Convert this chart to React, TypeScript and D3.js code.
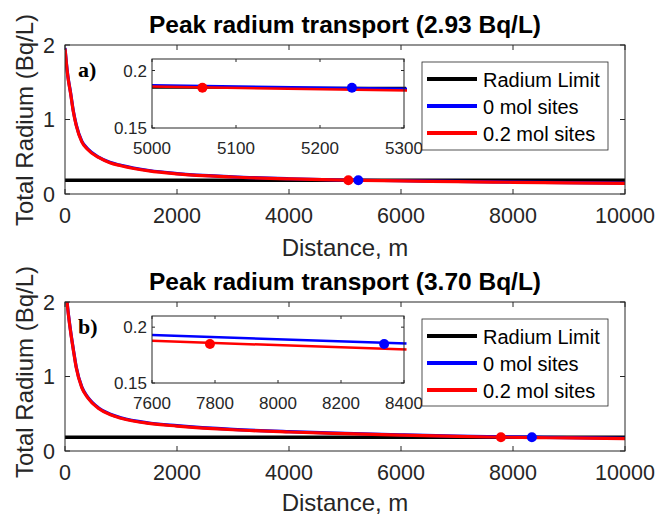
import React, { useEffect, useRef } from 'react';
import * as d3 from 'd3';

const W = 657, H = 517;
const FONT = '"Liberation Sans", Arial, Helvetica, sans-serif';
const AXC = '#262626';

const LIMIT = 0.185; // Bq/L

// panel a) peak 2.93 Bq/L
const distA = [0, 25, 50, 100, 150, 200, 300, 400, 600, 800, 1000, 1500, 2000, 3000, 4000, 5000, 5300, 6000, 7000, 8000, 9000, 10000];
const redA = [1.95, 1.75, 1.58, 1.35, 1.1, 0.92, 0.7, 0.6, 0.49, 0.42, 0.38, 0.31, 0.27, 0.228, 0.203, 0.186, 0.1827, 0.176, 0.166, 0.157, 0.15, 0.143];
const blueA = [1.96, 1.76, 1.59, 1.36, 1.11, 0.93, 0.71, 0.61, 0.495, 0.425, 0.385, 0.315, 0.274, 0.231, 0.205, 0.1871, 0.1842, 0.178, 0.169, 0.16, 0.153, 0.146];
const crossA = { red: 5060, blue: 5238 };

// panel b) peak 3.70 Bq/L
const distB = [0, 25, 50, 100, 150, 200, 300, 400, 600, 800, 1000, 1500, 2000, 3000, 4000, 5000, 6000, 7000, 7600, 8400, 9000, 10000];
const redB = [2.45, 2.1, 1.9, 1.6, 1.35, 1.12, 0.85, 0.72, 0.57, 0.49, 0.44, 0.37, 0.335, 0.285, 0.255, 0.232, 0.212, 0.195, 0.1878, 0.18, 0.175, 0.165];
const blueB = [2.46, 2.11, 1.91, 1.61, 1.36, 1.13, 0.86, 0.73, 0.578, 0.497, 0.446, 0.376, 0.34, 0.29, 0.26, 0.238, 0.218, 0.2, 0.1929, 0.1854, 0.18, 0.17];
const crossB = { red: 7784, blue: 8337 };

const xTicks = [0, 2000, 4000, 6000, 8000, 10000];
const yTicks = [0, 1, 2];
const insetTicksA = [5000, 5100, 5200, 5300];
const insetTicksB = [7600, 7800, 8000, 8200, 8400];
const insetYTicks = [0.15, 0.2];
const legendItems = [
  { label: 'Radium Limit', color: '#000' },
  { label: '0 mol sites', color: '#0000ff' },
  { label: '0.2 mol sites', color: '#ff0000' },
];

type PanelCfg = {
  id: string; top: number; title: string; letter: string;
  dist: number[]; red: number[]; blue: number[];
  cross: { red: number; blue: number };
  insetDomain: [number, number]; insetTicks: number[]; insetTop: number; insetH: number; insetLimit: boolean;
  legendTop: number; legendH: number; ylabelY: number; xlabelDy: number;
};

const panels: PanelCfg[] = [
  { id: 'a', top: 45, title: 'Peak radium transport (2.93 Bq/L)', letter: 'a)', dist: distA, red: redA, blue: blueA, cross: crossA,
    insetDomain: [5000, 5300], insetTicks: insetTicksA, insetTop: 59, insetH: 69, insetLimit: true, legendTop: 62, legendH: 88, ylabelY: 120, xlabelDy: 62 },
  { id: 'b', top: 302, title: 'Peak radium transport (3.70 Bq/L)', letter: 'b)', dist: distB, red: redB, blue: blueB, cross: crossB,
    insetDomain: [7600, 8400], insetTicks: insetTicksB, insetTop: 316, insetH: 67, insetLimit: false, legendTop: 319, legendH: 87, ylabelY: 372, xlabelDy: 60 },
];

function interp(xs: number[], ys: number[], x: number) {
  for (let i = 1; i < xs.length; i++) {
    if (x <= xs[i]) {
      const t = (x - xs[i - 1]) / (xs[i] - xs[i - 1]);
      return ys[i - 1] + t * (ys[i] - ys[i - 1]);
    }
  }
  return ys[ys.length - 1];
}

function drawPanel(svg: d3.Selection<SVGSVGElement, unknown, null, undefined>, p: PanelCfg) {
  const L = 65, R = 625, T = p.top, B = p.top + 149;
  const x = d3.scaleLinear().domain([0, 10000]).range([L, R]);
  const y = d3.scaleLinear().domain([0, 2]).range([B, T]);

  const clipId = 'clip-' + p.id;
  svg.append('clipPath').attr('id', clipId).append('rect')
    .attr('x', L).attr('y', T).attr('width', R - L).attr('height', B - T);

  const g = svg.append('g');
  g.append('rect').attr('x', L).attr('y', T).attr('width', R - L).attr('height', B - T).attr('fill', '#fff');

  // title
  svg.append('text').attr('x', 345).attr('y', T - 12).attr('text-anchor', 'middle')
    .attr('font-family', FONT).attr('font-weight', 'bold').attr('font-size', 24.5).text(p.title);

  const plot = g.append('g').attr('clip-path', `url(#${clipId})`);
  plot.append('line').attr('x1', x(0)).attr('x2', x(10000)).attr('y1', y(LIMIT)).attr('y2', y(LIMIT))
    .attr('stroke', '#000').attr('stroke-width', 3.5);
  const line = d3.line<number>().x((_, i) => x(p.dist[i])).y(d => y(d)).curve(d3.curveMonotoneX);
  plot.append('path').attr('d', line(p.blue)).attr('fill', 'none').attr('stroke', '#0000ff').attr('stroke-width', 3.2);
  plot.append('path').attr('d', line(p.red)).attr('fill', 'none').attr('stroke', '#ff0000').attr('stroke-width', 3.2);
  plot.append('circle').attr('cx', x(p.cross.red)).attr('cy', y(LIMIT)).attr('r', 5).attr('fill', '#ff0000');
  plot.append('circle').attr('cx', x(p.cross.blue)).attr('cy', y(LIMIT)).attr('r', 5).attr('fill', '#0000ff');

  // box + ticks
  g.append('rect').attr('x', L).attr('y', T).attr('width', R - L).attr('height', B - T)
    .attr('fill', 'none').attr('stroke', AXC).attr('stroke-width', 1);
  xTicks.forEach(t => {
    g.append('line').attr('x1', x(t)).attr('x2', x(t)).attr('y1', B).attr('y2', B - 5).attr('stroke', AXC);
    g.append('line').attr('x1', x(t)).attr('x2', x(t)).attr('y1', T).attr('y2', T + 5).attr('stroke', AXC);
    g.append('text').attr('x', x(t)).attr('y', B + 29).attr('text-anchor', 'middle')
      .attr('font-family', FONT).attr('font-size', 21.5).attr('fill', AXC).text(String(t));
  });
  yTicks.forEach(t => {
    g.append('line').attr('x1', L).attr('x2', L + 5).attr('y1', y(t)).attr('y2', y(t)).attr('stroke', AXC);
    g.append('line').attr('x1', R).attr('x2', R - 5).attr('y1', y(t)).attr('y2', y(t)).attr('stroke', AXC);
    g.append('text').attr('x', L - 10).attr('y', y(t) + 7.7).attr('text-anchor', 'end')
      .attr('font-family', FONT).attr('font-size', 21.5).attr('fill', AXC).text(String(t));
  });
  svg.append('text').attr('x', 345).attr('y', B + p.xlabelDy).attr('text-anchor', 'middle')
    .attr('font-family', FONT).attr('font-size', 24).attr('fill', AXC).text('Distance, m');
  svg.append('text').attr('transform', `translate(33,${p.ylabelY}) rotate(-90)`).attr('text-anchor', 'middle')
    .attr('font-family', FONT).attr('font-size', 24).attr('fill', AXC).text('Total Radium (Bq/L)');

  // panel letter
  g.append('text').attr('x', 78).attr('y', T + 32).attr('font-family', '"Liberation Serif", "Times New Roman", serif')
    .attr('font-weight', 'bold').attr('font-size', 22).text(p.letter);

  // inset
  const iL = 152, iR = 404, iT = p.insetTop, iB = p.insetTop + p.insetH;
  const ix = d3.scaleLinear().domain(p.insetDomain).range([iL, iR]);
  const iy = d3.scaleLinear().domain([0.15, 0.21]).range([iB, iT]);
  const ig = svg.append('g');
  ig.append('rect').attr('x', iL).attr('y', iT).attr('width', iR - iL).attr('height', iB - iT).attr('fill', '#fff');
  const iClip = 'iclip-' + p.id;
  svg.append('clipPath').attr('id', iClip).append('rect')
    .attr('x', iL).attr('y', iT).attr('width', iR - iL + 3).attr('height', iB - iT);
  const ip = ig.append('g').attr('clip-path', `url(#${iClip})`);
  if (p.insetLimit) {
    ip.append('line').attr('x1', iL).attr('x2', iR + 2).attr('y1', iy(LIMIT)).attr('y2', iy(LIMIT))
      .attr('stroke', '#000').attr('stroke-width', 2);
  }
  const [d0, d1] = p.insetDomain;
  const seg = (vals: number[]) => d3.line<number>().x(d => ix(d)).y(d => iy(interp(p.dist, vals, d)))([d0, d1 + 8]);
  ip.append('path').attr('d', seg(p.blue)).attr('fill', 'none').attr('stroke', '#0000ff').attr('stroke-width', 2.5);
  ip.append('path').attr('d', seg(p.red)).attr('fill', 'none').attr('stroke', '#ff0000').attr('stroke-width', 2.5);
  ip.append('circle').attr('cx', ix(p.cross.red)).attr('cy', iy(LIMIT)).attr('r', 5).attr('fill', '#ff0000');
  ip.append('circle').attr('cx', ix(p.cross.blue)).attr('cy', iy(LIMIT)).attr('r', 5).attr('fill', '#0000ff');
  ig.append('rect').attr('x', iL).attr('y', iT).attr('width', iR - iL).attr('height', iB - iT)
    .attr('fill', 'none').attr('stroke', AXC).attr('stroke-width', 1);
  p.insetTicks.forEach(t => {
    ig.append('line').attr('x1', ix(t)).attr('x2', ix(t)).attr('y1', iB).attr('y2', iB - 3).attr('stroke', AXC);
    ig.append('line').attr('x1', ix(t)).attr('x2', ix(t)).attr('y1', iT).attr('y2', iT + 3).attr('stroke', AXC);
    ig.append('text').attr('x', ix(t)).attr('y', iB + 26).attr('text-anchor', 'middle')
      .attr('font-family', FONT).attr('font-size', 17).attr('fill', AXC).text(String(t));
  });
  insetYTicks.forEach(t => {
    ig.append('line').attr('x1', iL).attr('x2', iL + 3).attr('y1', iy(t)).attr('y2', iy(t)).attr('stroke', AXC);
    ig.append('line').attr('x1', iR).attr('x2', iR - 3).attr('y1', iy(t)).attr('y2', iy(t)).attr('stroke', AXC);
    ig.append('text').attr('x', iL - 5).attr('y', iy(t) + 6).attr('text-anchor', 'end')
      .attr('font-family', FONT).attr('font-size', 17).attr('fill', AXC).text(String(t));
  });

  // legend
  const lx = 422, ly = p.legendTop;
  const lg = svg.append('g');
  lg.append('rect').attr('x', lx).attr('y', ly).attr('width', 186).attr('height', p.legendH)
    .attr('fill', '#fff').attr('stroke', AXC).attr('stroke-width', 0.8);
  legendItems.forEach((it, i) => {
    const yy = ly + 17 + i * 27;
    lg.append('line').attr('x1', lx + 5).attr('x2', lx + 55).attr('y1', yy).attr('y2', yy)
      .attr('stroke', it.color).attr('stroke-width', 4);
    lg.append('text').attr('x', lx + 61).attr('y', yy + 8).attr('font-family', FONT).attr('font-size', 20)
      .attr('fill', '#000').text(it.label);
  });
}

export default function App() {
  const ref = useRef<SVGSVGElement | null>(null);
  useEffect(() => {
    const svg = d3.select(ref.current as SVGSVGElement);
    svg.selectAll('*').remove();
    panels.forEach(p => drawPanel(svg, p));
  }, []);
  return (
    <svg ref={ref} width={W} height={H}
      style={{ position: 'absolute', left: 0, top: 0, background: '#fff' }} />
  );
}
